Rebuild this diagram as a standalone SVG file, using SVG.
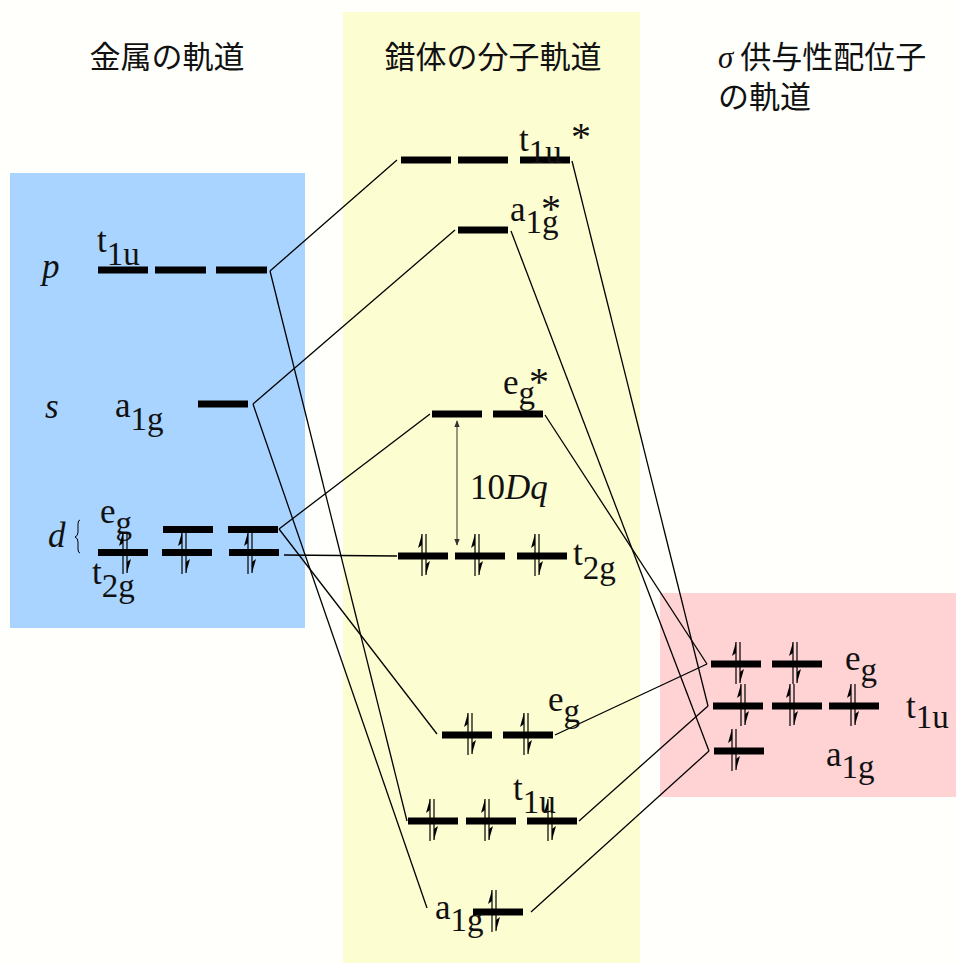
<svg xmlns="http://www.w3.org/2000/svg" xmlns:xlink="http://www.w3.org/1999/xlink" width="956" height="963" viewBox="0 0 956 963">
<style>
.bar{fill:#000}
.ln{stroke:#000;stroke-width:1.3;fill:none}
.lbl{font-family:"Liberation Serif","DejaVu Serif",serif;font-size:35px;fill:#111}
.it{font-style:italic}
.sub{font-size:33px}
.star{font-family:"Liberation Serif","DejaVu Serif",serif;font-size:40px;fill:#111}
.ttl{font-family:"Noto Sans CJK JP","Noto Sans CJK SC",sans-serif;font-size:31px;fill:#111}
.el{stroke:#000;stroke-width:1.2;fill:none}
</style>
<defs>
<g id="pair">
<path class="el" d="M-2,20 V-22 M2,-22 V19"/>
<polygon points="-2,-22 -6,-8 -2,-11" fill="#000"/>
<polygon points="2,19 6,5 2,8" fill="#000"/>
</g>
<marker id="ah" viewBox="0 0 10 10" refX="9" refY="5" markerWidth="7" markerHeight="7" orient="auto-start-reverse" markerUnits="userSpaceOnUse"><path d="M0,1 L10,5 L0,9 Z" fill="#333"/></marker>
</defs>
<rect x="0" y="0" width="956" height="963" fill="#fffffb"/>
<rect x="10" y="173" width="295" height="455" fill="#a8d4ff"/>
<rect x="343" y="12" width="297" height="951" fill="#fdfdd2"/>
<rect x="660" y="593" width="296" height="204" fill="#ffd2d4"/>

<g id="titles">
<text class="ttl" x="167" y="68" text-anchor="middle">金属の軌道</text>
<text class="ttl" x="493" y="68" text-anchor="middle">錯体の分子軌道</text>
<text class="ttl" x="718" y="68"><tspan font-family="Liberation Serif" font-style="italic">σ</tspan> 供与性配位子</text>
<text class="ttl" x="718" y="108">の軌道</text>
</g>

<g id="connectors">
<path class="ln" d="M270,271 L397,160"/>
<path class="ln" d="M270,271 L407,821"/>
<path class="ln" d="M253,404 L455,230"/>
<path class="ln" d="M253,404 L427,908"/>
<path class="ln" d="M279,529 L430,414"/>
<path class="ln" d="M279,529 L437,734"/>
<path class="ln" d="M284,555 L397,556" stroke-width="1"/>
<path class="ln" d="M572,161 L708,706"/>
<path class="ln" d="M511,231 L709,751"/>
<path class="ln" d="M545,415 L707,664"/>
<path class="ln" d="M555,735 L707,664"/>
<path class="ln" d="M579,821 L708,706"/>
<path class="ln" d="M531,912 L709,751"/>
<path d="M457,421 L457,545" stroke="#333" stroke-width="1" marker-start="url(#ah)" marker-end="url(#ah)"/>
</g>

<g id="metal-p">
<text class="lbl it" x="42" y="278">p</text>
<text class="lbl" x="97" y="252">t<tspan class="sub" dy="13">1u</tspan></text>
<rect class="bar" x="98" y="266.5" width="50" height="7"/>
<rect class="bar" x="155" y="266.5" width="51" height="7"/>
<rect class="bar" x="216" y="266.5" width="51" height="7"/>
</g>
<g id="metal-s">
<text class="lbl it" x="45" y="418">s</text>
<text class="lbl" x="115" y="417">a<tspan class="sub" dy="13">1g</tspan></text>
<rect class="bar" x="198" y="400.5" width="50" height="7"/>
</g>
<g id="metal-d">
<text class="lbl it" x="48" y="547">d</text>
<path d="M80,520 Q78,520 78,524 V532 Q78,536 75,537 Q78,538 78,542 V549 Q78,553 80,553" stroke="#000" stroke-width="1" fill="none"/>
<text class="lbl" x="100" y="523">e<tspan class="sub" dy="11">g</tspan></text>
<text class="lbl" x="92" y="584">t<tspan class="sub" dy="13">2g</tspan></text>
<rect class="bar" x="163" y="526" width="50" height="7"/>
<rect class="bar" x="228" y="526" width="50" height="7"/>
<rect class="bar" x="98" y="549" width="50" height="7"/>
<rect class="bar" x="162" y="549" width="50" height="7"/>
<rect class="bar" x="229" y="549" width="50" height="7"/>
<use xlink:href="#pair" x="125" y="554"/>
<use xlink:href="#pair" x="184" y="554"/>
<use xlink:href="#pair" x="250" y="554"/>
</g>

<g id="mo-t1u-star">
<rect class="bar" x="401" y="156.5" width="50" height="7"/>
<rect class="bar" x="458" y="156.5" width="50" height="7"/>
<rect class="bar" x="520" y="156.5" width="50" height="7"/>
<text class="lbl" x="519" y="151">t<tspan class="sub" dy="12">1u</tspan></text>
<text class="star" x="571" y="150">*</text>
</g>
<g id="mo-a1g-star">
<rect class="bar" x="458" y="226.5" width="50" height="7"/>
<text class="lbl" x="510" y="221">a<tspan class="sub" dy="12">1g</tspan></text>
<text class="star" x="541" y="222">*</text>
</g>
<g id="mo-eg-star">
<rect class="bar" x="432" y="410.5" width="50" height="7"/>
<rect class="bar" x="493" y="410.5" width="50" height="7"/>
<text class="lbl" x="503" y="394">e<tspan class="sub" dy="10">g</tspan></text>
<text class="star" x="529" y="395">*</text>
</g>
<g id="dq">
<text class="lbl" x="470" y="499">10<tspan class="it">Dq</tspan></text>
</g>
<g id="mo-t2g">
<rect class="bar" x="398" y="552.5" width="50" height="7"/>
<rect class="bar" x="455" y="552.5" width="50" height="7"/>
<rect class="bar" x="517" y="552.5" width="50" height="7"/>
<use xlink:href="#pair" x="424" y="556"/>
<use xlink:href="#pair" x="477" y="556"/>
<use xlink:href="#pair" x="537" y="556"/>
<text class="lbl" x="573" y="565">t<tspan class="sub" dy="14">2g</tspan></text>
</g>
<g id="mo-eg">
<rect class="bar" x="442" y="731.5" width="50" height="7"/>
<rect class="bar" x="503" y="731.5" width="50" height="7"/>
<use xlink:href="#pair" x="470" y="735"/>
<use xlink:href="#pair" x="526" y="735"/>
<text class="lbl" x="548" y="711">e<tspan class="sub" dy="11">g</tspan></text>
</g>
<g id="mo-t1u">
<rect class="bar" x="408" y="817.5" width="50" height="7"/>
<rect class="bar" x="466" y="817.5" width="50" height="7"/>
<rect class="bar" x="527" y="817.5" width="50" height="7"/>
<use xlink:href="#pair" x="432" y="821"/>
<use xlink:href="#pair" x="487" y="821"/>
<use xlink:href="#pair" x="550" y="821"/>
<text class="lbl" x="513" y="800">t<tspan class="sub" dy="13">1u</tspan></text>
</g>
<g id="mo-a1g">
<rect class="bar" x="473" y="908.5" width="50" height="7"/>
<use xlink:href="#pair" x="494" y="912"/>
<text class="lbl" x="435" y="919">a<tspan class="sub" dy="12">1g</tspan></text>
</g>

<g id="lig-eg">
<rect class="bar" x="711" y="660.5" width="50" height="7"/>
<rect class="bar" x="772" y="660.5" width="50" height="7"/>
<use xlink:href="#pair" x="738" y="664"/>
<use xlink:href="#pair" x="795" y="664"/>
<text class="lbl" x="845" y="670">e<tspan class="sub" dy="11">g</tspan></text>
</g>
<g id="lig-t1u">
<rect class="bar" x="713" y="702.5" width="50" height="7"/>
<rect class="bar" x="772" y="702.5" width="50" height="7"/>
<rect class="bar" x="829" y="702.5" width="50" height="7"/>
<use xlink:href="#pair" x="743" y="706"/>
<use xlink:href="#pair" x="792" y="706"/>
<use xlink:href="#pair" x="853" y="706"/>
<text class="lbl" x="906" y="718">t<tspan class="sub" dy="10">1u</tspan></text>
</g>
<g id="lig-a1g">
<rect class="bar" x="714" y="747.5" width="50" height="7"/>
<use xlink:href="#pair" x="734" y="751"/>
<text class="lbl" x="826" y="766">a<tspan class="sub" dy="12">1g</tspan></text>
</g>
</svg>
